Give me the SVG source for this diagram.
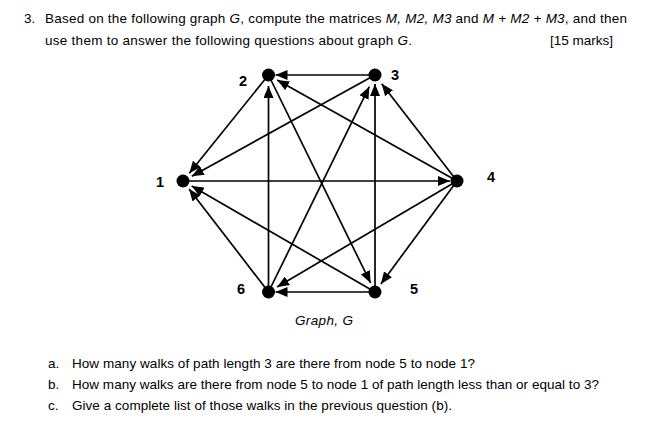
<svg xmlns="http://www.w3.org/2000/svg" width="662" height="439" viewBox="0 0 662 439">
<style>
.t{font-family:"Liberation Sans",Arial,sans-serif;font-size:13.5px;fill:#000}
.i{font-style:italic}
.lbl{font-family:"Liberation Sans",Arial,sans-serif;font-size:14.5px;font-weight:bold;fill:#000;text-anchor:middle}
.e{stroke:#000;stroke-width:1.7;fill:none;marker-end:url(#ah)}
.n{fill:#000}
</style>
<defs>
<marker id="ah" markerUnits="userSpaceOnUse" markerWidth="12" markerHeight="10" viewBox="0 0 12 10" refX="12" refY="5" orient="auto">
<path d="M0,0 L12,5 L0,10 z" fill="#000"/>
</marker>
</defs>
<rect width="662" height="439" fill="#fff"/>
<text class="t" x="24" y="23">3.</text>
<text class="t" x="45" y="23" textLength="582">Based on the following graph <tspan class="i">G</tspan>, compute the matrices <tspan class="i">M, M2, M3</tspan> and <tspan class="i">M + M2 + M3</tspan>, and then</text>
<text class="t" x="45" y="45" textLength="367">use them to answer the following questions about graph <tspan class="i">G</tspan>.</text>
<text class="t" x="613" y="45" text-anchor="end">[15 marks]</text>
<g id="connectors">
<line class="e" x1="183" y1="181" x2="450" y2="181"/>
<line class="e" x1="268.5" y1="75" x2="189.3" y2="173.2"/>
<line class="e" x1="375" y1="75" x2="191.8" y2="176.2"/>
<line class="e" x1="375" y1="292" x2="191.7" y2="186"/>
<line class="e" x1="268.5" y1="292" x2="189.1" y2="188.9"/>
<line class="e" x1="375" y1="75" x2="275.5" y2="75"/>
<line class="e" x1="457" y1="181" x2="277.2" y2="79.9"/>
<line class="e" x1="268.5" y1="292" x2="268.5" y2="86"/>
<line class="e" x1="375" y1="292" x2="375" y2="84"/>
<line class="e" x1="268.5" y1="292" x2="369.3" y2="86.7"/>
<line class="e" x1="457" y1="181" x2="381.7" y2="83.7"/>
<line class="e" x1="268.5" y1="75" x2="370.6" y2="283"/>
<line class="e" x1="457" y1="181" x2="380.9" y2="284"/>
<line class="e" x1="457" y1="181" x2="277.1" y2="286.9"/>
<line class="e" x1="375" y1="292" x2="275.5" y2="292"/>
</g>
<g id="node1"><circle class="n" cx="183" cy="181" r="6.5"/><text class="lbl" x="160" y="187">1</text></g>
<g id="node2"><circle class="n" cx="268.5" cy="75" r="6.5"/><text class="lbl" x="243" y="86">2</text></g>
<g id="node3"><circle class="n" cx="375" cy="75" r="6.5"/><text class="lbl" x="395" y="80">3</text></g>
<g id="node4"><circle class="n" cx="457" cy="181" r="6.5"/><text class="lbl" x="491" y="182">4</text></g>
<g id="node5"><circle class="n" cx="375" cy="292" r="6.5"/><text class="lbl" x="414" y="294">5</text></g>
<g id="node6"><circle class="n" cx="268.5" cy="292" r="6.5"/><text class="lbl" x="241" y="294">6</text></g>
<text class="t i" x="295" y="325" textLength="58">Graph, G</text>
<text class="t" x="48" y="368">a.</text>
<text class="t" x="72" y="368" textLength="403">How many walks of path length 3 are there from node 5 to node 1?</text>
<text class="t" x="48" y="389">b.</text>
<text class="t" x="72" y="389" textLength="527">How many walks are there from node 5 to node 1 of path length less than or equal to 3?</text>
<text class="t" x="48" y="410">c.</text>
<text class="t" x="72" y="410" textLength="380">Give a complete list of those walks in the previous question (b).</text>
</svg>
